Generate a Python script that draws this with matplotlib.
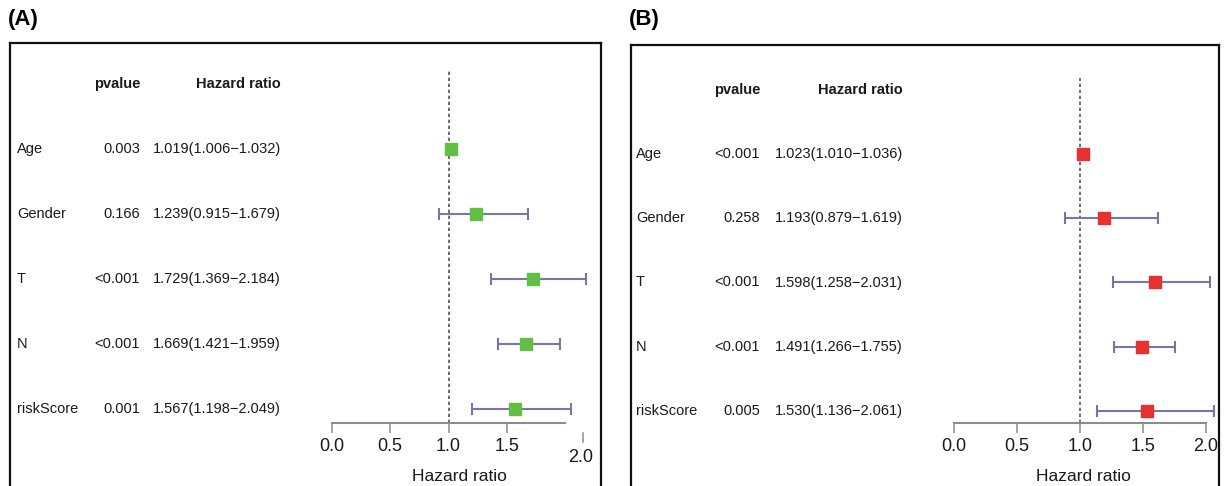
import matplotlib
matplotlib.use('Agg')
import matplotlib.pyplot as plt
import matplotlib.transforms as mtransforms

plt.rcParams['font.family'] = ['Liberation Sans', 'DejaVu Sans']

# データ
variables = ['Age', 'Gender', 'T', 'N', 'riskScore']

# (A) 単変量
pvalue_a = ['0.003', '0.166', '<0.001', '<0.001', '0.001']
hr_a = [1.019, 1.239, 1.729, 1.669, 1.567]
low_a = [1.006, 0.915, 1.369, 1.421, 1.198]
high_a = [1.032, 1.679, 2.184, 1.959, 2.049]

# (B) 多変量
pvalue_b = ['<0.001', '0.258', '<0.001', '<0.001', '0.005']
hr_b = [1.023, 1.193, 1.598, 1.491, 1.530]
low_b = [1.010, 0.879, 1.258, 1.266, 1.136]
high_b = [1.036, 1.619, 2.031, 1.755, 2.061]

W, H = 1232, 486
fig = plt.figure(figsize=(W / 100, H / 100), dpi=100)

TXT = '#1a1a1a'
CI_COL = '#7676A8'
AX_COL = '#8C8C8C'
FS = 10.5


def forest(tag, pv, hr, lo, hi, color, box, area, row0, sp, head_y, cols, ticks, xlab_x, odd_tick=None):
    # 外枠
    bl, br, bt = box
    bax = fig.add_axes([bl / W, -0.05, (br - bl) / W, 1.05 - bt / H])
    bax.set_xticks([])
    bax.set_yticks([])
    bax.spines['bottom'].set_visible(False)
    for s in ['left', 'right', 'top']:
        bax.spines[s].set_linewidth(1.6)
        bax.spines[s].set_color('#111111')
    bax.patch.set_alpha(0)
    fig.text((bl - 2) / W, 1 - 20 / H, tag, fontsize=16, fontweight='bold', ha='left', va='center')

    # フォレストプロット領域
    x0, x1, yt, yb = area
    ax = fig.add_axes([x0 / W, 1 - yb / H, (x1 - x0) / W, (yb - yt) / H])
    ax.patch.set_alpha(0)
    ax.set_xlim(0, 2)
    ax.set_ylim((yb - row0) / sp, (yt - row0) / sp)
    rows = list(range(len(hr)))

    ax.axvline(1, color='#555555', lw=1.2, ls=(0, (2, 1.6)), zorder=1)
    err = ax.errorbar(hr, rows, xerr=[[h - l for h, l in zip(hr, lo)], [u - h for h, u in zip(hr, hi)]],
                      fmt='s', ms=8, mfc=color, mec=color, ecolor=CI_COL, elinewidth=1.5,
                      capsize=4, capthick=1.5, zorder=3)
    for a in err.get_children():
        a.set_clip_on(False)
    err.lines[0].set_zorder(4)

    for s in ['left', 'right', 'top']:
        ax.spines[s].set_visible(False)
    ax.spines['bottom'].set_color(AX_COL)
    ax.spines['bottom'].set_linewidth(1.5)
    ax.set_yticks([])
    ax.set_xticks(ticks)
    ax.set_xticklabels([f'{t:.1f}' for t in ticks])
    ax.tick_params(axis='x', direction='out', length=7, width=1.1, color=AX_COL,
                   labelsize=13, labelcolor=TXT, pad=4)

    ah = yb - yt
    tr_ax = mtransforms.blended_transform_factory(ax.transData, ax.transAxes)
    if odd_tick is not None:
        ax.plot([odd_tick, odd_tick], [-10 / ah, -19 / ah], color=AX_COL, lw=1.1,
                transform=tr_ax, clip_on=False)
        ax.text(odd_tick - 0.02, -34 / ah, '2.0', fontsize=13, color=TXT, ha='center', va='center',
                transform=tr_ax)
    ax.text(xlab_x, -53 / ah, 'Hazard ratio', fontsize=12.5, color=TXT, ha='center', va='center',
            transform=tr_ax)

    # 表部分
    tr = mtransforms.blended_transform_factory(fig.transFigure, ax.transData)
    lab_x, pv_x, hr_x = cols
    hy = (head_y - row0) / sp
    ax.text(pv_x / W, hy, 'pvalue', fontsize=FS, fontweight='bold', color=TXT, ha='right', va='center', transform=tr)
    ax.text(hr_x / W, hy, 'Hazard ratio', fontsize=FS, fontweight='bold', color=TXT, ha='right', va='center', transform=tr)
    for i, name in enumerate(variables):
        ax.text(lab_x / W, i, name, fontsize=FS, color=TXT, ha='left', va='center', transform=tr)
        ax.text(pv_x / W, i, pv[i], fontsize=FS, color=TXT, ha='right', va='center', transform=tr)
        ax.text(hr_x / W, i, f'{hr[i]:.3f}({lo[i]:.3f}\u2212{hi[i]:.3f})', fontsize=FS, color=TXT,
                ha='right', va='center', transform=tr)
    return ax


forest('(A)', pvalue_a, hr_a, low_a, high_a, '#63BE46',
       box=(10, 601, 43), area=(332, 565, 70, 423), row0=149, sp=65.0, head_y=84,
       cols=(17, 140, 281), ticks=[0.0, 0.5, 1.0, 1.5], xlab_x=1.09, odd_tick=2.155)

forest('(B)', pvalue_b, hr_b, low_b, high_b, '#E8302E',
       box=(631, 1219, 45), area=(954, 1206, 78, 423), row0=154, sp=64.25, head_y=90,
       cols=(636, 760, 903), ticks=[0.0, 0.5, 1.0, 1.5, 2.0], xlab_x=1.024)

fig.savefig('out.png', dpi=100)
